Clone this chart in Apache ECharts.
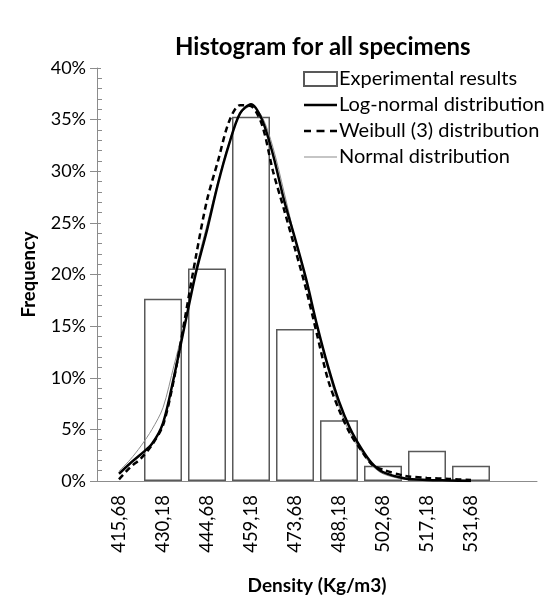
<!DOCTYPE html>
<html><head><meta charset="utf-8">
<script src="https://cdn.jsdelivr.net/npm/echarts@6/dist/echarts.min.js"></script>
<style>html,body{margin:0;padding:0;background:#fff}#c{width:549px;height:600px}</style>
</head><body><div id="c"></div>
<script>
// Histogram bins (category labels) and an empty trailing slot
const categories = ['415,68','430,18','444,68','459,18','473,68','488,18','502,68','517,18','531,68',''];
// Experimental frequency (%) per bin
const experimental = [null, 17.65, 20.59, 35.29, 14.71, 5.88, 1.47, 2.94, 1.47, null];
// Density positions (kg/m3) where the fitted curves were read
const curveX = [415.68,419.31,422.93,426.56,430.18,433.81,437.43,441.06,444.68,448.31,451.93,455.56,459.18,462.81,466.43,470.06,473.68,477.31,480.93,484.56,488.18,491.81,495.43,499.06,502.68,509.93,517.18,524.43,531.68];
const logNormal = [0.7,1.7,2.6,3.6,5.6,10.1,15.2,20.2,24.3,28.8,32.6,35.6,36.5,35.0,31.6,27.2,23.5,19.6,15.1,11.1,7.7,5.1,3.2,1.7,0.85,0.25,0.1,0.05,0];
const weibull3 = [0.16,1.3,2.2,3.5,5.4,9.9,15.8,21.8,27.2,31.0,34.8,36.4,36.3,34.5,30.0,26.3,22.5,18.6,14.2,9.8,6.9,4.6,3.0,1.6,1.1,0.5,0.3,0.2,0.1];
const normal = [0.95,2.05,3.4,5.0,7.1,11.2,15.4,20.6,24.8,29.0,32.8,35.5,36.3,35.3,32.3,28.0,23.5,19.3,15.0,10.8,7.2,4.6,2.9,1.5,0.7,0.15,0.05,0,0];
const binStart = 415.68, binWidth = 14.5;

const pairs = arr => arr.map((v, i) => [curveX[i], v]);
const FONT = 'Lato';
const chart = echarts.init(document.getElementById('c'), null, {renderer: 'canvas'});
chart.setOption({
  animation: false,
  backgroundColor: '#fff',
  textStyle: {fontFamily: FONT},
  title: {
    text: 'Histogram for all specimens',
    left: 170, top: 30,
    textStyle: {fontFamily: FONT, fontSize: 24, fontWeight: 'bold', color: '#000'}
  },
  grid: {left: 97, right: 12, top: 68, bottom: 110, containLabel: false},
  legend: {
    orient: 'vertical', left: 303, top: 69, padding: 0, itemWidth: 33, itemHeight: 14, itemGap: 6,
    textStyle: {fontFamily: FONT, fontSize: 20, color: '#000', padding: [0,0,0,-3]},
    data: [
      {name: 'Experimental results', icon: 'rect'},
      {name: 'Log-normal distribution', icon: 'path://M0,0H33V2.5H0Z'},
      {name: 'Weibull (3) distribution', icon: 'path://M0,0H7V2.5H0Z M12.5,0H20.5V2.5H12.5Z M26,0H33V2.5H26Z'},
      {name: 'Normal distribution', icon: 'path://M0,0H33V1H0Z'}
    ]
  },
  xAxis: [{
    type: 'category', data: categories, boundaryGap: true,
    axisLine: {lineStyle: {color: '#8c8c8c', width: 1}},
    axisTick: {show: false},
    axisLabel: {rotate: 90, interval: 0, margin: 14, fontSize: 18.5, color: '#000', fontFamily: FONT},
    name: 'Density (Kg/m3)', nameLocation: 'middle', nameGap: 95,
    nameTextStyle: {fontFamily: FONT, fontSize: 19, fontWeight: 'bold', color: '#000'}
  }, {
    type: 'value', show: false,
    min: binStart - binWidth / 2, max: binStart + binWidth * 9.5
  }],
  yAxis: [{
    type: 'value', min: 0, max: 40, interval: 5,
    axisLine: {show: true, lineStyle: {color: '#8c8c8c', width: 1}},
    axisTick: {show: true, inside: false, length: 7, lineStyle: {color: '#8c8c8c'}},
    splitLine: {show: false},
    axisLabel: {formatter: '{value}%', fontSize: 18, color: '#000', margin: 11, fontFamily: FONT},
    name: 'Frequency', nameLocation: 'middle', nameGap: 58, nameRotate: 90,
    nameTextStyle: {fontFamily: FONT, fontSize: 18.5, fontWeight: 'bold', color: '#000'}
  }, {
    type: 'value', min: 0, max: 40, interval: 5, position: 'left',
    axisLine: {show: false},
    axisTick: {show: true, inside: true, length: 4, lineStyle: {color: '#8c8c8c'}},
    minorTick: {show: true, splitNumber: 5, length: 5, lineStyle: {color: '#8c8c8c'}},
    axisLabel: {show: false}, splitLine: {show: false}
  }],
  series: [{
    name: 'Experimental results', type: 'bar', data: experimental,
    xAxisIndex: 0, yAxisIndex: 0, barWidth: 38,
    itemStyle: {color: '#ffffff', borderColor: '#595959', borderWidth: 1.5}
  }, {
    name: 'Log-normal distribution', type: 'line', data: pairs(logNormal),
    xAxisIndex: 1, yAxisIndex: 0, smooth: 0.3, symbol: 'none', z: 5,
    lineStyle: {color: '#000', width: 2.5}, itemStyle: {color: '#000'}
  }, {
    name: 'Weibull (3) distribution', type: 'line', data: pairs(weibull3),
    xAxisIndex: 1, yAxisIndex: 0, smooth: 0.3, symbol: 'none', z: 4,
    lineStyle: {color: '#000', width: 2.5, type: [6, 4]}, itemStyle: {color: '#000'}
  }, {
    name: 'Normal distribution', type: 'line', data: pairs(normal),
    xAxisIndex: 1, yAxisIndex: 0, smooth: 0.3, symbol: 'none', z: 3,
    lineStyle: {color: '#8c8c8c', width: 1}, itemStyle: {color: '#8c8c8c'}
  }]
});
</script></body></html>
